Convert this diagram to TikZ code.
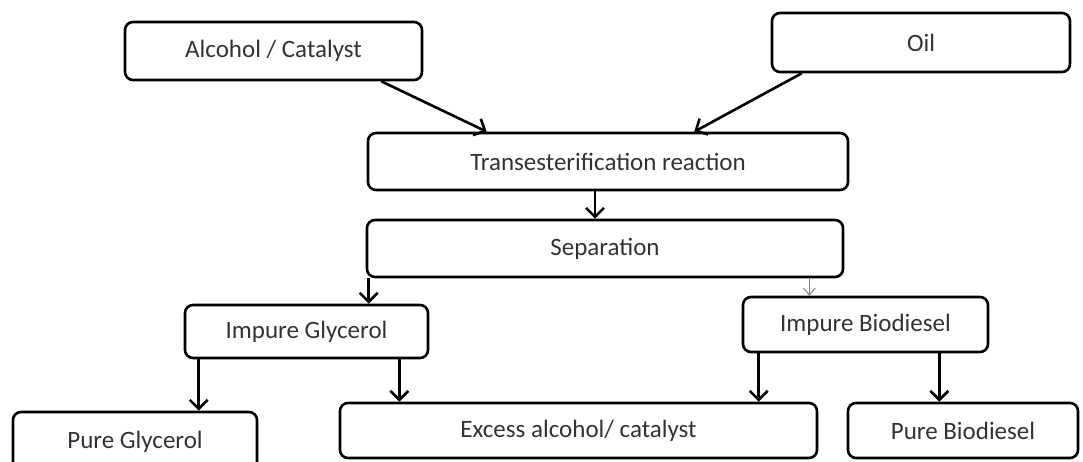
\documentclass[tikz,border=0pt]{standalone}
\usepackage{fontspec}
\setmainfont{Carlito}
\usetikzlibrary{arrows.meta}
\definecolor{labelgrey}{HTML}{333333}

\tikzset{
    stepbox/.style={
        draw=black,
        line width=2.6pt,
        rounded corners=8pt,
        fill=white,
        inner sep=0pt,
        text=labelgrey,
        font=\fontsize{25}{30}\selectfont
    },
    flow/.style={
        line width=2.6pt,
        -{Straight Barb[length=9pt,width=18pt,line width=2.6pt]}
    },
    thinflow/.style={
        draw=gray,
        line width=1pt,
        -{Straight Barb[length=7pt,width=12pt]}
    }
}

\begin{document}
\begin{tikzpicture}[x=1pt,y=-1pt]
\clip (0,0) rectangle (1083,462);
\fill[white] (0,0) rectangle (1083,462);

\node[stepbox, minimum width=297pt, minimum height=58pt] (alc) at (273.5,51) {Alcohol / Catalyst};
\node[stepbox, minimum width=298pt, minimum height=59pt] (oil) at (921,42.5) {Oil};
\node[stepbox, minimum width=480pt, minimum height=57pt] (trans) at (608,161.5) {Transesterification reaction};
\node[stepbox, minimum width=476pt, minimum height=57pt] (sep) at (605,248.5) {Separation};
\node[stepbox, minimum width=243pt, minimum height=53pt] (iglyc) at (306.5,331.5) {Impure Glycerol};
\node[stepbox, minimum width=245pt, minimum height=55pt] (ibio) at (865.5,324.5) {Impure Biodiesel};
\node[stepbox, minimum width=244pt, minimum height=60pt] (pglyc) at (135,442) {Pure Glycerol};
\node[stepbox, minimum width=477pt, minimum height=55pt] (exc) at (578.5,430.5) {Excess alcohol/ catalyst};
\node[stepbox, minimum width=230pt, minimum height=55pt] (pbio) at (963,430.5) {Pure Biodiesel};

% inputs to the reaction
\draw[flow] ([xshift=-42pt]alc.south east) -- ([xshift=120pt]trans.north west);
\draw[flow] ([xshift=31pt]oil.south west) -- ([xshift=-155pt]trans.north east);
\draw[flow] ([xshift=-13pt]trans.south) -- ([xshift=-10pt]sep.north);

% separation
\draw[flow] ([xshift=3pt]sep.south west) -- ([xshift=3pt]sep.south west |- iglyc.north);
\draw[thinflow] ([xshift=-35pt]sep.south east) -- ([xshift=-35pt]sep.south east |- ibio.north);

% products
\draw[flow] ([xshift=15pt]iglyc.south west) -- ([xshift=15pt]iglyc.south west |- pglyc.north);
\draw[flow] ([xshift=-30pt]iglyc.south east) -- ([xshift=-30pt]iglyc.south east |- exc.north);
\draw[flow] ([xshift=17pt]ibio.south west) -- ([xshift=17pt]ibio.south west |- exc.north);
\draw[flow] ([xshift=-50pt]ibio.south east) -- ([xshift=-50pt]ibio.south east |- pbio.north);
\end{tikzpicture}
\end{document}
